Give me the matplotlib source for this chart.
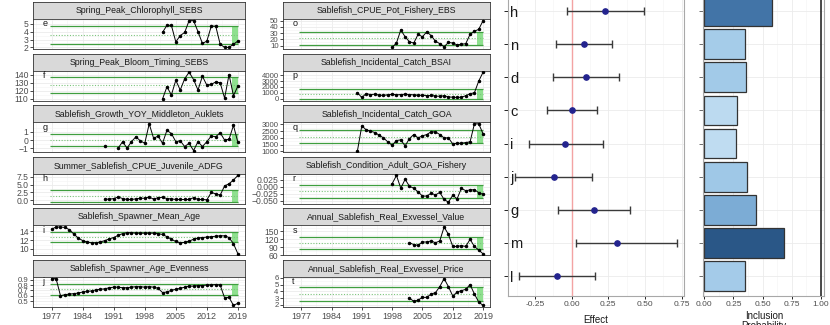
import numpy as np
import matplotlib

matplotlib.use("Agg")
import matplotlib.pyplot as plt
from matplotlib.colors import LinearSegmentedColormap, Normalize
from matplotlib.ticker import FixedLocator

plt.rcParams["font.family"] = ["Liberation Sans", "DejaVu Sans"]

W, H = 830, 325
nan = np.nan

# ---- left column series
chl_years = np.arange(2002, 2020)
chl = [3.9, 4.8, 4.8, 2.7, 3.5, 3.9, 5.4, 5.4, 4.0, 2.5, 2.8, 4.7, 4.7, 2.4, 2.0, 2.0, 2.4, 2.8]

bloom_years = np.arange(2002, 2020)
bloom = [110, 125, 115, 133, 121, 135, 143, 134, 121, 138, 127, 128, 131, 130, 111, 140, 114, 126]

growth_years = np.arange(1989, 2020)
growth = [-0.7, nan, nan, -1.0, -0.2, -1.0, -0.2, 0.4, -0.1, -0.4, 2.0, 0.2, 0.5, -0.4, 1.2, 0.8,
          -0.2, -0.1, -0.8, -0.4, -1.3, -0.2, -0.8, -0.2, 0.5, 0.4, 0.9, 0.0, 0.1, 1.8, -0.3]

juv_years = np.arange(1989, 2020)
juv = [0.3, 0.3, 0.5, 1.0, 0.5, 0.2, 0.2, 0.4, 0.6, 0.6, 1.0, 0.3, 0.8, 0.9, 0.5, 0.4,
       0.2, 0.2, 0.2, 0.2, 0.8, 0.2, 0.2, 0.1, 2.5, 2.0, 1.6, 4.6, 5.3, 6.5, 8.0]

age_years = np.arange(1977, 2020)
age = [14.5, 15.0, 15.0, 14.9, 14.4, 13.4, 12.5, 11.9, 11.6, 11.4, 11.4, 11.6, 11.9, 12.3, 12.6,
       13.1, 13.5, 13.7, 13.7, 13.6, 13.6, 13.6, 13.6, 13.6, 13.5, 13.3, 12.8, 12.2, 11.7, 11.4,
       11.5, 11.8, 12.2, 12.5, 12.6, 12.7, 12.8, 12.9, 13.0, 13.0, 12.6, 11.2, 8.9]

even_years = np.arange(1977, 2020)
even = [0.92, 0.92, 0.60, 0.62, 0.63, 0.64, 0.65, 0.67, 0.68, 0.69, 0.71, 0.72, 0.73, 0.75, 0.76,
        0.76, 0.75, 0.75, 0.76, 0.77, 0.77, 0.76, 0.77, 0.76, 0.74, 0.66, 0.67, 0.70, 0.72, 0.74,
        0.76, 0.78, 0.78, 0.79, 0.79, 0.80, 0.80, 0.81, 0.80, 0.56, 0.57, 0.42, 0.46]

# ---- middle column series
cpue_years = np.arange(1998, 2020)
cpue = [7, 14, 35, 24, 16, 14, 28, 24, 32, 26, 17, 13, 8, 15, 14, 11, 12, 13, 28, 33, 36, 50]

bsai_years = np.arange(1990, 2020)
bsai = [1000, 200, 850, 700, 750, 600, 550, 650, 750, 650, 700, 750, 700, 650, 550, 600, 500, 550,
        450, 400, 500, 300, 250, 200, 250, 500, 850, 1000, 3000, 4500]

goa_years = np.arange(1990, 2020)
goa = [1050, 2900, 2600, 2500, 2400, 2200, 2000, 1700, 1450, 1800, 1850, 1400, 1950, 2250, 2000,
       2150, 2250, 2450, 2450, 2250, 2000, 2000, 1550, 1600, 1600, 1650, 1700, 3050, 3050, 2300]

cond_years = np.arange(1998, 2020)
cond = [0.010, 0.040, -0.006, 0.026, 0.001, -0.006, -0.019, -0.034, -0.034, -0.024, -0.030,
        -0.021, -0.046, -0.056, -0.031, -0.044, -0.006, -0.015, -0.012, -0.011, -0.022, -0.028]

val_years = np.arange(2002, 2020)
val = [107, 100, 97, 110, 110, 114, 107, 114, 167, 139, 93, 93, 96, 93, 120, 93, 79, 65]

price_years = np.arange(2002, 2020)
price = [3.0, 2.5, 2.7, 3.1, 3.1, 3.6, 3.8, 4.7, 5.9, 4.7, 3.3, 3.9, 4.1, 4.3, 5.0, 3.6, 2.4, 1.9]

LEFT = [
    ("Spring_Peak_Chlorophyll_SEBS", "e", chl_years, chl, [2, 3, 4, 5]),
    ("Spring_Peak_Bloom_Timing_SEBS", "f", bloom_years, bloom, [110, 120, 130, 140]),
    ("Sablefish_Growth_YOY_Middleton_Auklets", "g", growth_years, growth, [-1, 0, 1]),
    ("Summer_Sablefish_CPUE_Juvenile_ADFG", "h", juv_years, juv, [0.0, 2.5, 5.0, 7.5]),
    ("Sablefish_Spawner_Mean_Age", "i", age_years, age, [10, 12, 14]),
    ("Sablefish_Spawner_Age_Evenness", "j", even_years, even, [0.5, 0.6, 0.7, 0.8, 0.9]),
]
MIDDLE = [
    ("Sablefish_CPUE_Pot_Fishery_EBS", "o", cpue_years, cpue, [10, 20, 30, 40, 50]),
    ("Sablefish_Incidental_Catch_BSAI", "p", bsai_years, bsai, [0, 1000, 2000, 3000, 4000]),
    ("Sablefish_Incidental_Catch_GOA", "q", goa_years, goa, [1000, 1500, 2000, 2500, 3000]),
    ("Sablefish_Condition_Adult_GOA_Fishery", "r", cond_years, cond, [-0.050, -0.025, 0.000, 0.025]),
    ("Annual_Sablefish_Real_Exvessel_Value", "s", val_years, val, [60, 90, 120, 150]),
    ("Annual_Sablefish_Real_Exvessel_Price", "t", price_years, price, [2, 3, 4, 5, 6]),
]
YEAR_TICKS = [1977, 1984, 1991, 1998, 2005, 2012, 2019]

# ---- effects / inclusion probability (top to bottom)
labels = ["h", "n", "d", "c", "i", "j", "g", "m", "l"]
effect = [0.23, 0.084, 0.098, 0.005, -0.043, -0.12, 0.152, 0.31, -0.10]
lower = [-0.034, -0.109, -0.13, -0.166, -0.293, -0.386, -0.091, 0.03, -0.357]
upper = [0.495, 0.275, 0.32, 0.173, 0.211, 0.136, 0.40, 0.72, 0.16]
incl = [0.584, 0.347, 0.355, 0.283, 0.275, 0.364, 0.447, 0.682, 0.35]
effect_ticks = [-0.25, 0.0, 0.25, 0.5, 0.75]
incl_ticks = [0.0, 0.25, 0.5, 0.75, 1.0]

GRID = "#ebebeb"
TICK = "#4d4d4d"


def px_axes(fig, x0, y0, x1, y1):
    return fig.add_axes([x0 / W, 1 - y1 / H, (x1 - x0) / W, (y1 - y0) / H])


def small_panel(fig, x0, x1, top, title, letter, years, vals, yticks, show_x):
    strip = px_axes(fig, x0, top, x1, top + 17)
    strip.set_facecolor("#d9d9d9")
    strip.set_xticks([])
    strip.set_yticks([])
    for s in strip.spines.values():
        s.set_color("#333333")
        s.set_linewidth(0.6)
    strip.text(0.5, 0.5, title, ha="center", va="center", fontsize=6.3,
               color="#1a1a1a", transform=strip.transAxes)

    ax = px_axes(fig, x0, top + 17, x1, top + 47)
    vals = np.asarray(vals, float)
    mu = np.nanmean(vals)
    sd = np.nanstd(vals, ddof=1)
    ax.fill_between([2017.6, 2019], mu - sd, mu + sd, color="#8fe08f", lw=0, zorder=1)
    ax.hlines([mu - sd, mu + sd], 1976.6, 2019, color="#3f9e3f", lw=0.9, zorder=2)
    ax.hlines(mu, 1976.6, 2019, color="#7cc47c", lw=0.8, linestyles=(0, (1, 1.5)), zorder=2)
    ax.plot(years, vals, color="black", lw=0.7, marker="o", ms=1.5, zorder=3)
    ax.set_xlim(1972.8, 2020.6)
    ax.set_xticks(YEAR_TICKS)
    ax.xaxis.set_minor_locator(FixedLocator(np.arange(1973.5, 2021, 7)))
    step = yticks[1] - yticks[0]
    ax.set_yticks(yticks)
    ax.yaxis.set_minor_locator(FixedLocator(np.arange(yticks[0] - step / 2, yticks[-1] + step, step)))
    ax.margins(y=0.06)
    ax.set_axisbelow(True)
    ax.grid(which="major", color=GRID, lw=0.6)
    ax.grid(which="minor", color="#f4f4f4", lw=0.4)
    for s in ax.spines.values():
        s.set_color("#333333")
        s.set_linewidth(0.6)
    ysize = 6.2 if len(yticks) <= 4 else 5.6
    ax.tick_params(axis="y", which="major", labelsize=ysize, labelcolor=TICK, length=2, width=0.5, pad=1.2)
    ax.tick_params(which="minor", length=0)
    if show_x:
        ax.tick_params(axis="x", which="major", labelsize=6.5, labelcolor=TICK, length=2, width=0.5, pad=1.5)
    else:
        ax.tick_params(axis="x", which="major", length=0, labelbottom=False)
    ax.text(0.045, 0.99, letter, transform=ax.transAxes, fontsize=6.5, ha="left", va="top", color="#1a1a1a")
    return ax


def main():
    fig = plt.figure(figsize=(W / 100, H / 100), dpi=100, facecolor="white")

    for k in range(6):
        top = 2 + 51.6 * k
        t, l, yr, v, yt = LEFT[k]
        small_panel(fig, 33, 245, top, t, l, yr, v, yt, k == 5)
        t, l, yr, v, yt = MIDDLE[k]
        small_panel(fig, 283, 490, top, t, l, yr, v, yt, k == 5)

    ypos = np.arange(len(labels), 0, -1)
    eff = np.asarray(effect)
    lo = np.asarray(lower)
    hi = np.asarray(upper)

    # effect plot
    ax = px_axes(fig, 508, -8.7, 684, 295.9)
    ax.axvline(0, color="#f3a3a3", lw=1.0, zorder=1)
    ax.errorbar(eff, ypos, xerr=[eff - lo, hi - eff], fmt="none", ecolor="#3a3a3a",
                elinewidth=1.0, capsize=3.2, capthick=1.0, zorder=2)
    ax.plot(eff, ypos, "o", color="#23238e", ms=3.8, zorder=3)
    ax.set_xlim(-0.434, 0.766)
    ax.set_ylim(0.4, 9.6)
    ax.set_xticks(effect_ticks)
    ax.set_xticklabels([f"{t:.2f}" for t in effect_ticks])
    ax.xaxis.set_minor_locator(FixedLocator(np.arange(-0.375, 0.8, 0.25)))
    ax.set_yticks(ypos)
    ax.set_yticklabels(labels)
    for lab in ax.get_yticklabels():
        lab.set_ha("left")
    ax.set_axisbelow(True)
    ax.grid(which="major", color=GRID, lw=0.6)
    ax.grid(which="minor", axis="x", color="#f4f4f4", lw=0.4)
    for s in ax.spines.values():
        s.set_color("#a8a8a8")
        s.set_linewidth(0.8)
    ax.tick_params(axis="x", which="major", labelsize=6, labelcolor=TICK, length=2.5, width=0.6, pad=1.5)
    ax.tick_params(axis="y", which="major", labelsize=10.5, labelcolor="#1a1a1a", length=3,
                   width=0.6, pad=-4.5)
    ax.tick_params(which="minor", length=0)
    ax.set_xlabel("Effect", fontsize=7, color="#1a1a1a", labelpad=4.5)

    # inclusion probability bars
    cmap = LinearSegmentedColormap.from_list("incl", ["#bfdcf1", "#8ebde2", "#4b7fb3", "#2a5787"])
    norm = Normalize(vmin=min(incl), vmax=max(incl))
    bx = px_axes(fig, 703.3, -8.7, 824.3, 295.9)
    bx.barh(ypos, incl, height=0.9, color=cmap(norm(np.asarray(incl))), edgecolor="#333333",
            linewidth=0.9, zorder=2)
    bx.axvline(1.0, color="#1a1a1a", lw=1.1, zorder=3)
    bx.set_xlim(-0.009, 1.031)
    bx.set_ylim(0.4, 9.6)
    bx.set_xticks(incl_ticks)
    bx.set_xticklabels([f"{t:.2f}" for t in incl_ticks])
    bx.xaxis.set_minor_locator(FixedLocator(np.arange(0.125, 1.0, 0.25)))
    bx.set_yticks(ypos)
    bx.set_yticklabels([])
    bx.set_axisbelow(True)
    bx.grid(which="major", color=GRID, lw=0.6)
    bx.grid(which="minor", axis="x", color="#f4f4f4", lw=0.4)
    for s in bx.spines.values():
        s.set_color("#a8a8a8")
        s.set_linewidth(0.8)
    bx.tick_params(axis="x", which="major", labelsize=6, labelcolor=TICK, length=2.5, width=0.6, pad=1.5)
    bx.tick_params(axis="y", which="major", length=3, width=0.6, color="#555555")
    bx.tick_params(which="minor", length=0)
    bx.set_xlabel("Inclusion\nProbability", fontsize=7, color="#1a1a1a", labelpad=1.5, linespacing=1.0)

    fig.savefig("out.png", dpi=100, facecolor="white")


if __name__ == "__main__":
    main()
